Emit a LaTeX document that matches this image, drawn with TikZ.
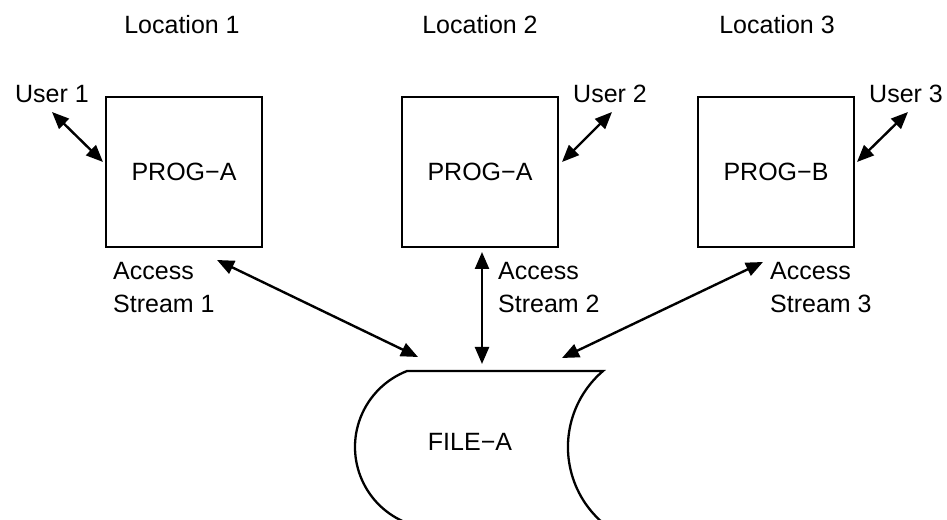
\documentclass[tikz,border=0pt]{standalone}
\usepackage{fontspec}
\setmainfont{Liberation Sans}
\usetikzlibrary{arrows.meta}
\begin{document}
\begin{tikzpicture}[x=1pt,y=1pt,
  every node/.style={font=\fontsize{25}{33}\selectfont, text=black},
  progbox/.style={draw=black, line width=2.3pt, minimum width=156pt, minimum height=150pt, inner sep=0pt},
  lbl/.style={inner sep=0pt},
  conn/.style={line width=2.4pt, draw=black, {Triangle[length=17pt,width=14pt]}-{Triangle[length=17pt,width=14pt]}},
  filestyle/.style={line width=2.3pt, draw=black}]
\useasboundingbox (0,0) rectangle (947,519);
\clip (0,0) rectangle (947,519);
% locations
\node[lbl, anchor=base] (loc1) at (182,485) {Location 1};
\node[lbl, anchor=base] (loc2) at (480,485) {Location 2};
\node[lbl, anchor=base] (loc3) at (777,485) {Location 3};
% programs
\node[progbox] (p1) at (184,347) {PROG−A};
\node[progbox] (p2) at (480,347) {PROG−A};
\node[progbox] (p3) at (776,347) {PROG−B};
% users
\node[lbl, anchor=base west] (u1) at (15,416) {User 1};
\node[lbl, anchor=base west] (u2) at (573,416) {User 2};
\node[lbl, anchor=base west] (u3) at (869,416) {User 3};
% access labels
\node[lbl, anchor=north west, align=left] (s1) at (113,257) {Access\\Stream 1};
\node[lbl, anchor=north west, align=left] (s2) at (498,257) {Access\\Stream 2};
\node[lbl, anchor=north west, align=left] (s3) at (770,257) {Access\\Stream 3};
% file shape
\draw[filestyle] (436.5,72) ++(248.8:81.5) arc[start angle=248.8, end angle=111.2, radius=81.5]
  -- (603,148) arc[start angle=130.5, end angle=229.5, radius=100];
\node[lbl] (file) at (470,77.5) {FILE−A};
% connector end points
\coordinate (u1e) at (52,407);  \coordinate (p1u) at (103,357);
\coordinate (u2e) at (612,407); \coordinate (p2u) at (562,357);
\coordinate (u3e) at (908,407); \coordinate (p3u) at (857,357);
\coordinate (p1s) at (217,259); \coordinate (f1) at (418,162);
\coordinate (p2s) at (482,267); \coordinate (f2) at (482,155);
\coordinate (p3s) at (763,257); \coordinate (f3) at (562,161);
% connectors
\draw[conn] (u1e) -- (p1u);
\draw[conn] (u2e) -- (p2u);
\draw[conn] (u3e) -- (p3u);
\draw[conn] (p1s) -- (f1);
\draw[conn] (p2s) -- (f2);
\draw[conn] (p3s) -- (f3);
\end{tikzpicture}
\end{document}
